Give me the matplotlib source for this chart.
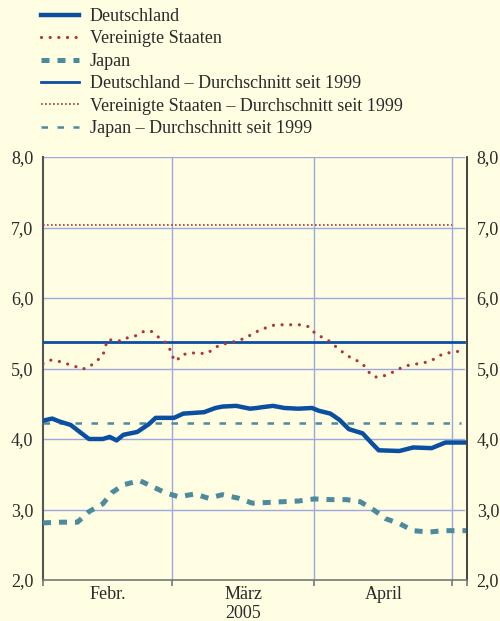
import matplotlib
matplotlib.use("Agg")
import matplotlib.pyplot as plt
import matplotlib.transforms as mtransforms

# ===================== Daten =====================
# x: Tage seit 1. Feb. 2005, y: Rendite in %

tage_de = [0, 2, 3.5, 6, 10, 13, 14.5, 16, 17.5, 20.5, 23, 24.5, 28.5, 30.5, 35, 37.5,
           39, 42, 45, 46.5, 47.5, 50, 52.5, 55.5, 58.5, 60, 62.5, 64.5, 66.5, 69.5,
           71.5, 73, 77.5, 80.5, 84.5, 87.5, 91.5]
werte_de = [4.26, 4.29, 4.25, 4.20, 4.00, 4.00, 4.03, 3.98, 4.06, 4.10, 4.21, 4.30, 4.30,
            4.36, 4.38, 4.44, 4.46, 4.47, 4.43, 4.44, 4.45, 4.47, 4.44, 4.43, 4.44, 4.40,
            4.36, 4.27, 4.14, 4.08, 3.94, 3.84, 3.83, 3.88, 3.87, 3.95, 3.95]

tage_us = [0, 1.5, 3.5, 5, 7, 8.5, 10, 11.5, 13, 13.5, 14, 15.5, 17, 18.5, 20.5, 22, 23.5,
           25, 26.5, 27.5, 28, 29, 30, 32, 33.5, 35.5, 37, 38.5, 40.5, 42, 44, 45.5, 47,
           49, 50.5, 52.5, 54, 56, 58, 59, 60.5, 62, 63.5, 65, 66.5, 68, 69.5, 70.5, 72,
           73.5, 75.5, 77, 78.5, 80.5, 82, 84, 85.5, 87, 89, 91]
werte_us = [5.07, 5.12, 5.10, 5.07, 5.03, 4.99, 5.02, 5.10, 5.18, 5.29, 5.41, 5.40, 5.39,
            5.44, 5.47, 5.53, 5.53, 5.45, 5.38, 5.29, 5.18, 5.10, 5.19, 5.22, 5.22, 5.21,
            5.27, 5.34, 5.36, 5.39, 5.43, 5.49, 5.54, 5.59, 5.62, 5.62, 5.62, 5.62, 5.59,
            5.51, 5.45, 5.40, 5.32, 5.24, 5.17, 5.12, 5.07, 4.97, 4.88, 4.88, 4.93, 4.98,
            5.03, 5.06, 5.07, 5.10, 5.15, 5.21, 5.23, 5.25]

tage_jp = [0, 4, 7.5, 10, 13, 15, 17.5, 21, 23, 26.5, 29.5, 33, 36, 39, 42.5, 45.5, 49,
           52, 55.5, 59, 62.5, 66, 69, 72, 74.5, 77.5, 80.5, 84, 87, 92]
werte_jp = [2.81, 2.82, 2.82, 2.97, 3.08, 3.24, 3.35, 3.41, 3.35, 3.24, 3.18, 3.22, 3.16,
            3.21, 3.16, 3.09, 3.10, 3.11, 3.12, 3.15, 3.14, 3.14, 3.11, 2.99, 2.87, 2.80,
            2.70, 2.68, 2.70, 2.70]

# Durchschnitt seit 1999
avg_de = 5.37
avg_us = 7.03
avg_jp = 4.22

monatsgrenzen = [0, 28, 59, 89]
monatsmitten = [14, 43.5, 74]
monate = ["Febr.", "März", "April"]
jahr = "2005"
y_ticks = [2, 3, 4, 5, 6, 7, 8]

# ===================== Stil =====================
bg = "#FFFDE2"
c_de = "#0A4FA0"
c_us = "#B0343A"
c_jp = "#4C8A9E"
c_grid = "#9CA8DE"
c_text = "#2A2A2A"

plt.rcParams["font.family"] = ["Liberation Serif", "DejaVu Serif"]
plt.rcParams["font.size"] = 13

fig = plt.figure(figsize=(5, 6.21), dpi=100, facecolor=bg)
ax = fig.add_axes([43 / 500, 1 - 580 / 621, 424 / 500, 423 / 621], facecolor=bg)

# Serien
l_de, = ax.plot(tage_de, werte_de, color=c_de, lw=3.2, solid_joinstyle="round", zorder=4)
l_us, = ax.plot(tage_us, werte_us, color=c_us, lw=2.3, linestyle=(0, (0.01, 2.7)),
                dash_capstyle="round", zorder=4)
l_jp, = ax.plot(tage_jp, werte_jp, color=c_jp, lw=3.6, linestyle=(0, (1.6, 1.6)),
                dash_capstyle="butt", zorder=4)

# Durchschnitte
a_de, = ax.plot([tage_de[0], tage_de[-1]], [avg_de, avg_de], color=c_de, lw=2.0, zorder=3)
a_us, = ax.plot([tage_us[0], monatsgrenzen[-1]], [avg_us, avg_us], color=c_us, lw=1.2,
                linestyle=(0, (1, 1.4)), zorder=3)
a_jp, = ax.plot([tage_jp[0], tage_jp[-1] - 1], [avg_jp, avg_jp], color=c_jp, lw=1.8,
                linestyle=(0, (2.6, 3.8)), zorder=3)

# Achsen
ax.set_xlim(0, 92.2)
ax.set_ylim(2, 8)
ax.set_yticks(y_ticks)
ax.set_yticklabels([f"{v:.1f}".replace(".", ",") for v in y_ticks])
ax.tick_params(axis="y", length=0, pad=7, labelcolor=c_text,
               right=True, labelright=True)

ax.set_xticks(monatsgrenzen + [92.2])
ax.set_xticklabels([])
ax.tick_params(axis="x", length=4, width=1.2, color="#777777", direction="out")
ax.set_xticks(monatsmitten, minor=True)
ax.set_xticklabels(monate, minor=True)
ax.tick_params(axis="x", which="minor", length=0, pad=4, labelcolor=c_text)

for v in y_ticks[1:]:
    ax.axhline(v, xmin=0, xmax=91.5 / 92.2, color=c_grid, lw=1.0, zorder=1)
for m in monatsgrenzen[1:]:
    ax.axvline(m, color=c_grid, lw=1.0, zorder=1)

ax.spines["top"].set_visible(False)
ax.spines["left"].set_color("#555555")
ax.spines["left"].set_linewidth(1.5)
ax.spines["right"].set_color("#222222")
ax.spines["right"].set_linewidth(1.2)
ax.spines["bottom"].set_color("#777777")
ax.spines["bottom"].set_linewidth(1.2)

trans = mtransforms.blended_transform_factory(ax.transData, ax.transAxes)
ax.text(monatsmitten[1], -0.08, jahr, transform=trans, ha="center", va="center",
        color=c_text)

# Legende
labels = ["Deutschland", "Vereinigte Staaten", "Japan",
          "Deutschland – Durchschnitt seit 1999",
          "Vereinigte Staaten – Durchschnitt seit 1999",
          "Japan – Durchschnitt seit 1999"]
fig.legend([l_de, l_us, l_jp, a_de, a_us, a_jp], labels, loc="upper left",
           bbox_to_anchor=(41 / 500, 1 - 8 / 621), frameon=False, borderpad=0,
           borderaxespad=0, handlelength=2.1, handletextpad=0.6, labelspacing=0.3,
           fontsize=13, labelcolor=c_text)

plt.savefig("out.png", dpi=100, facecolor=bg)
